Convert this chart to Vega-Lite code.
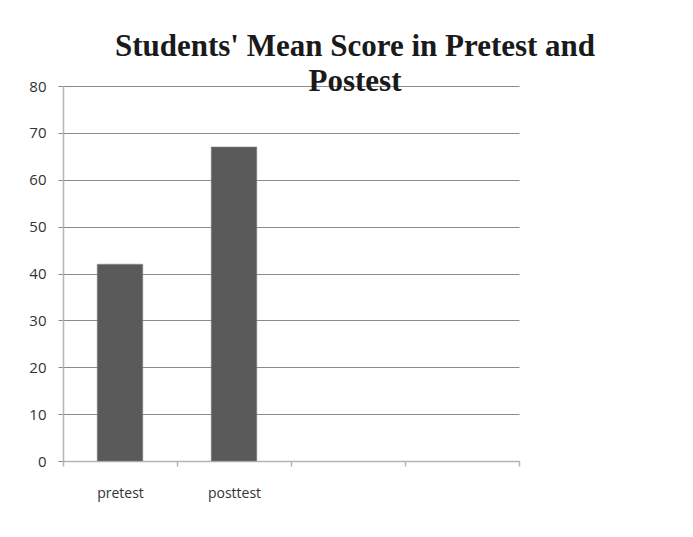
{
  "$schema": "https://vega.github.io/schema/vega-lite/v6.json",
  "width": 456,
  "height": 375,
  "autosize": "none",
  "padding": {"left": 63, "top": 86, "right": 174, "bottom": 76},
  "background": "white",
  "title": {
    "text": ["Students' Mean Score in Pretest and", "Postest"],
    "font": "Liberation Serif",
    "fontSize": 31,
    "fontWeight": "bold",
    "color": "#1a1a1a",
    "anchor": "middle",
    "dx": 64,
    "offset": -19,
    "lineHeight": 35
  },
  "data": {
    "values": [
      {"test": "pretest", "score": 42},
      {"test": "posttest", "score": 67}
    ]
  },
  "mark": {"type": "bar", "width": {"band": 0.4}, "color": "#5a5a5a", "stroke": "#8a8a8a", "strokeWidth": 0.5},
  "encoding": {
    "x": {
      "field": "test",
      "type": "nominal",
      "sort": null,
      "scale": {"domain": ["pretest", "posttest", " ", "  "], "paddingInner": 0, "paddingOuter": 0},
      "axis": {
        "title": null,
        "labelAngle": 0,
        "tickBand": "extent",
        "grid": false,
        "domainColor": "#b5b5b5",
        "domainWidth": 1.5,
        "tickColor": "#b5b5b5",
        "tickSize": 5,
        "tickWidth": 1.5,
        "labelFont": "Open Sans",
        "labelFontSize": 14,
        "labelColor": "#333333",
        "labelPadding": 20
      }
    },
    "y": {
      "field": "score",
      "type": "quantitative",
      "scale": {"domain": [0, 80], "nice": false},
      "axis": {
        "title": null,
        "values": [0, 10, 20, 30, 40, 50, 60, 70, 80],
        "grid": true,
        "gridColor": "#8a8a8a",
        "gridWidth": 1,
        "domainColor": "#b5b5b5",
        "domainWidth": 1.5,
        "tickColor": "#8a8a8a",
        "tickSize": 5,
        "labelFont": "Open Sans",
        "labelFontSize": 15,
        "labelColor": "#333333",
        "labelPadding": 12
      }
    }
  },
  "config": {"view": {"stroke": null}}
}
